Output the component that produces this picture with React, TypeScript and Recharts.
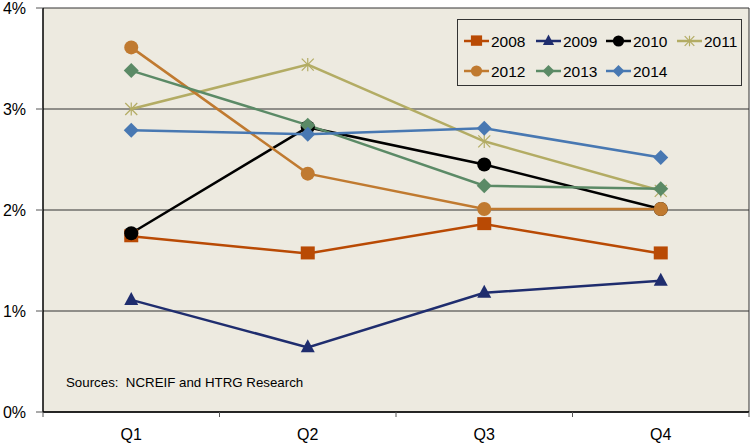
import React from 'react';
import { LineChart, Line, XAxis, YAxis, CartesianGrid } from 'recharts';

const categories = ['Q1', 'Q2', 'Q3', 'Q4'];
const yTicks = [0, 1, 2, 3, 4];
const s2008 = [1.74, 1.57, 1.86, 1.57];
const s2009 = [1.11, 0.64, 1.18, 1.30];
const s2010 = [1.77, 2.82, 2.45, 2.01];
const s2011 = [3.0, 3.44, 2.68, 2.19];
const s2012 = [3.61, 2.36, 2.01, 2.01];
const s2013 = [3.38, 2.84, 2.24, 2.21];
const s2014 = [2.79, 2.75, 2.81, 2.52];
const sourceText = 'Sources:  NCREIF and HTRG Research';

const seriesDefs = [
  { key: '2008', values: s2008, color: '#B94A04', shape: 'square' },
  { key: '2009', values: s2009, color: '#1F2D6E', shape: 'triangle' },
  { key: '2010', values: s2010, color: '#000000', shape: 'circle' },
  { key: '2011', values: s2011, color: '#B3AC64', shape: 'star' },
  { key: '2012', values: s2012, color: '#C07A30', shape: 'circle' },
  { key: '2013', values: s2013, color: '#5B8A66', shape: 'diamond' },
  { key: '2014', values: s2014, color: '#4878B2', shape: 'diamond' },
];

const data = categories.map((c, i) => {
  const row: any = { cat: c };
  seriesDefs.forEach((s) => (row[s.key] = s.values[i]));
  return row;
});

const W = 752;
const H = 444;
const M = { top: 8, right: 3, left: 0, bottom: 0 };
const Y_W = 43;
const X_H = 32;
const PLOT_W = W - M.left - M.right - Y_W;
const HALF_BAND = PLOT_W / categories.length / 2;
const FONT = '"Liberation Sans", Arial, sans-serif';
const BG = '#EDEAE0';

function Marker({ cx, cy, shape, color, size = 1 }: any) {
  if (cx == null || cy == null) return null;
  const s = size;
  switch (shape) {
    case 'square':
      return <rect x={cx - 7 * s} y={cy - 7 * s} width={14 * s} height={13 * s} fill={color} />;
    case 'triangle':
      return <polygon points={`${cx},${cy - 8 * s} ${cx + 7 * s},${cy + 5 * s} ${cx - 7 * s},${cy + 5 * s}`} fill={color} />;
    case 'circle':
      return <circle cx={cx} cy={cy} r={7 * s} fill={color} />;
    case 'diamond':
      return <polygon points={`${cx},${cy - 7.5 * s} ${cx + 7.5 * s},${cy} ${cx},${cy + 7.5 * s} ${cx - 7.5 * s},${cy}`} fill={color} />;
    case 'star': {
      const r = 6 * s;
      return (
        <g stroke={color} strokeWidth={1.2}>
          <line x1={cx - r} y1={cy - r} x2={cx + r} y2={cy + r} />
          <line x1={cx - r} y1={cy + r} x2={cx + r} y2={cy - r} />
          <line x1={cx} y1={cy - r * 1.1} x2={cx} y2={cy + r * 1.1} />
        </g>
      );
    }
    default:
      return null;
  }
}

function XTick(props: any) {
  const { x, y, payload, index } = props;
  return (
    <g>
      <line x1={x - HALF_BAND} y1={y} x2={x - HALF_BAND} y2={y + 5} stroke="#555" strokeWidth={1} />
      {index === categories.length - 1 && (
        <line x1={x + HALF_BAND} y1={y} x2={x + HALF_BAND} y2={y + 5} stroke="#555" strokeWidth={1} />
      )}
      <text x={x} y={y + 28} textAnchor="middle" fontSize={16} fontFamily={FONT} fill="#000">
        {payload.value}
      </text>
    </g>
  );
}

function LegendBox() {
  const colX = [7, 79, 149, 220];
  const rowY = [22, 52];
  return (
    <svg width={285} height={67} style={{ display: 'block' }}>
      <rect x={0.5} y={0.5} width={284} height={66} fill={BG} stroke="#333" strokeWidth={1} />
      {seriesDefs.map((s, i) => {
        const cx0 = colX[i % 4];
        const cy = rowY[Math.floor(i / 4)];
        return (
          <g key={s.key}>
            <line x1={cx0} y1={cy} x2={cx0 + 25} y2={cy} stroke={s.color} strokeWidth={2.5} />
            <Marker cx={cx0 + 12.5} cy={cy} shape={s.shape} color={s.color} size={0.8} />
            <text x={cx0 + 27} y={cy + 5.5} fontSize={15.5} fontFamily={FONT} fill="#000">
              {s.key}
            </text>
          </g>
        );
      })}
    </svg>
  );
}

export default function App() {
  return (
    <div style={{ position: 'absolute', left: 0, top: 0, width: W, height: H, background: '#fff' }}>
      <LineChart width={W} height={H} data={data} margin={M}>
        <CartesianGrid
          fill={BG}
          stroke="#333"
          strokeWidth={1}
          horizontal={true}
          vertical={true}
          verticalCoordinatesGenerator={({ offset }: any) => [offset.left + offset.width]}
        />
        <XAxis
          dataKey="cat"
          scale="band"
          height={X_H}
          tickLine={false}
          tickSize={0}
          tickMargin={0}
          axisLine={{ stroke: '#000', strokeWidth: 1.5 }}
          tick={<XTick />}
          interval={0}
        />
        <YAxis
          width={Y_W}
          domain={[0, 4]}
          ticks={yTicks}
          interval={0}
          tickFormatter={(v: number) => `${v}%`}
          tickSize={7}
          tickMargin={10}
          tickLine={{ stroke: '#555' }}
          axisLine={{ stroke: '#000', strokeWidth: 1.5 }}
          tick={{ fontSize: 16, fontFamily: FONT, fill: '#000' }}
        />
        {seriesDefs.map((s) => (
          <Line
            key={s.key}
            dataKey={s.key}
            type="linear"
            stroke={s.color}
            strokeWidth={2.5}
            isAnimationActive={false}
            dot={(p: any) => <Marker key={`${s.key}-${p.index}`} cx={p.cx} cy={p.cy} shape={s.shape} color={s.color} />}
            activeDot={false}
          />
        ))}
        <text x={66} y={387} fontSize={13.3} fontFamily={FONT} fill="#000" style={{ whiteSpace: 'pre' }}>
          {sourceText}
        </text>
      </LineChart>
      <div style={{ position: 'absolute', left: 457, top: 19 }}>
        <LegendBox />
      </div>
    </div>
  );
}
